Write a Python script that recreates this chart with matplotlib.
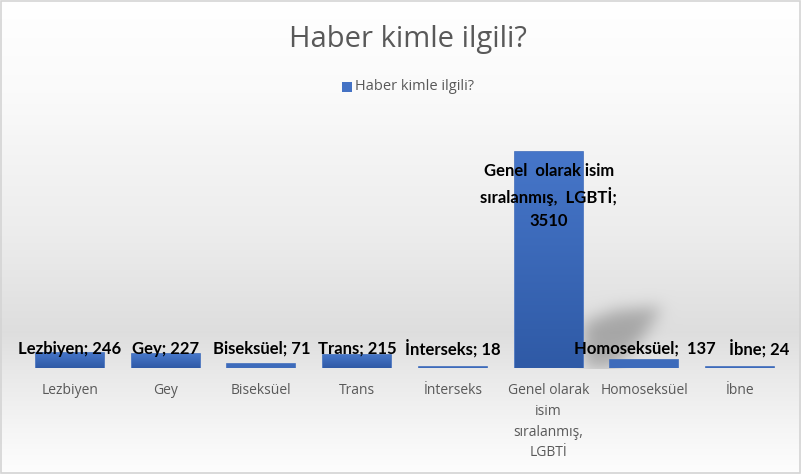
import matplotlib
matplotlib.use("Agg")
import matplotlib.pyplot as plt
import numpy as np
from matplotlib.patches import Rectangle
from matplotlib.path import Path
from matplotlib.colors import LinearSegmentedColormap

categories = ["Lezbiyen", "Gey", "Biseksüel", "Trans", "İnterseks",
              "Genel olarak isim sıralanmış, LGBTİ", "Homoseksüel", "İbne"]
tick_labels = ["Lezbiyen", "Gey", "Biseksüel", "Trans", "İnterseks",
               "Genel olarak\nisim\nsıralanmış,\nLGBTİ", "Homoseksüel", "İbne"]
values = [246, 227, 71, 215, 18, 3510, 137, 24]
title = "Haber kimle ilgili?"

plt.rcParams['font.family'] = ['Lato', 'DejaVu Sans']
light = ['Open Sans', 'DejaVu Sans']

W, H = 801, 474
fig = plt.figure(figsize=(W / 100, H / 100), dpi=100)

# background gradient over the whole figure (pixel grid)
bg = fig.add_axes([0, 0, 1, 1], zorder=-10)
yy = np.arange(H) / H
g = np.interp(yy, [0, 0.2, 0.5, 0.7, 0.78, 0.9, 1.0],
              [1.0, 0.98, 0.925, 0.87, 0.91, 0.96, 0.995])
img = np.repeat(g[:, None], W, axis=1)
rgb = np.dstack([img, img, img])

# soft cast shadow of the tall bar (blurred polygon)
poly = Path([(584, 368), (584, 322), (615, 310), (662, 306), (640, 340), (612, 368)])
X, Y = np.meshgrid(np.arange(W), np.arange(H))
mask = poly.contains_points(np.c_[X.ravel(), Y.ravel()]).reshape(H, W).astype(float)
k = np.exp(-0.5 * (np.arange(-24, 25) / 8.0) ** 2)
k /= k.sum()
mask = np.apply_along_axis(lambda r: np.convolve(r, k, mode="same"), 1, mask)
mask = np.apply_along_axis(lambda c: np.convolve(c, k, mode="same"), 0, mask)
mask[369:, :] = 0
rgb = rgb * (1 - 0.25 * mask[:, :, None])

bg.imshow(rgb, aspect="auto", extent=[0, W, H, 0], interpolation="nearest")
bg.add_patch(Rectangle((0.5, 0.5), W - 1.5, H - 1.5, fill=False, ec="#d4d4d4", lw=1.2))
bg.set_xlim(0, W); bg.set_ylim(H, 0)
bg.axis("off")

# plot area: left 22px, right 788px, baseline y=368, top ~110
ax = fig.add_axes([22 / W, (H - 368) / H, (788 - 22) / W, (368 - 110) / H])
ax.patch.set_alpha(0)
ymax = 3510 * (368 - 110) / (368 - 152)
x = np.arange(len(values))
i_big = int(np.argmax(values))

bars = ax.bar(x, values, width=0.71, color="#3d6bbb", ec="#3d6bbb", lw=1.2, zorder=2)
cmap = LinearSegmentedColormap.from_list("b", ["#4676c9", "#2f5aa6"])
grad = np.linspace(0, 1, 100)[:, None]
for b in bars:
    if b.get_height() > 200:
        im = ax.imshow(grad, cmap=cmap, aspect="auto", zorder=3,
                       extent=[b.get_x(), b.get_x() + b.get_width(), 0, b.get_height()])
        im.set_clip_path(b)
ax.set_xlim(-0.5, len(values) - 0.5)
ax.set_ylim(0, ymax)

# data labels
for i, (c, v) in enumerate(zip(categories, values)):
    if i == i_big:
        ax.annotate("Genel  olarak isim\nsıralanmış,  LGBTİ;\n3510", (i, v), xytext=(0, -8),
                    textcoords="offset points", ha="center", va="top", fontsize=12,
                    fontweight="bold", color="black", linespacing=1.5, zorder=5)
    else:
        dx = {7: 14}.get(i, 0)
        txt = f"{c};  {v}" if i == 6 else f"{c}; {v}"
        ax.annotate(txt, (i, 0), xytext=(dx, 14),
                    textcoords="offset points", ha="center", va="center", fontsize=12,
                    fontweight="bold", color="black", zorder=5)

ax.set_xticks(x)
ax.set_xticklabels(tick_labels, fontsize=10, color="#595959", linespacing=1.52,
                   family=light)
ax.tick_params(axis="x", length=0, pad=11)
ax.set_yticks([])
for s in ["top", "right", "left", "bottom"]:
    ax.spines[s].set_visible(False)

fig.text(408 / W, 1 - 40 / H, title, ha="center", va="center", fontsize=21,
         color="#595959", family=light)
fig.patches.append(Rectangle((342 / W, 1 - 92 / H), 10 / W, 10 / H, transform=fig.transFigure,
                             fc="#4472c4", ec="none", figure=fig))
fig.text(355 / W, 1 - 87 / H, title, ha="left", va="center", fontsize=10.5,
         color="#595959", family=light)

fig.savefig("out.png", dpi=100)
